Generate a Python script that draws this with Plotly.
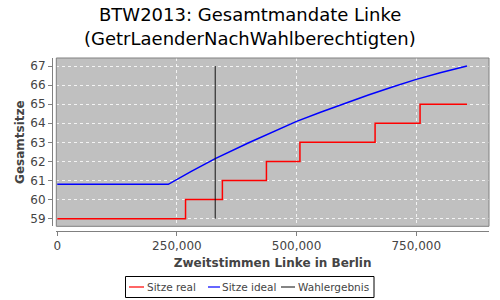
import plotly.graph_objects as go

# Data
real_x = [0, 268000, 345000, 437000, 507000, 664000, 758000, 856000]
real_y = [59, 60, 61, 62, 63, 64, 65, 65]

ideal_x = [0, 232000, 280000, 330000, 400000, 450000, 500000, 550000, 600000,
           650000, 700000, 750000, 800000, 856000]
ideal_y = [60.8, 60.8, 61.48, 62.15, 62.98, 63.55, 64.10, 64.58, 65.05,
           65.48, 65.90, 66.30, 66.65, 67.0]

wahl_x = [330000, 330000]
wahl_y = [59, 67]

x_ticks = [0, 250000, 500000, 750000]
y_ticks = [59, 60, 61, 62, 63, 64, 65, 66, 67]

legend_names = ["Sitze real", "Sitze ideal", "Wahlergebnis"]
legend_colors = ["#ff0000", "#0000ff", "#333333"]

font = "DejaVu Sans"

W, H = 500, 300
ML, MR, MT, MB = 52, 11, 58, 69
PW = W - ML - MR
PH = H - MT - MB


def px_x(p):
    return (p - ML) / PW


def px_y(p):
    return (H - MB - p) / PH


fig = go.Figure()
fig.add_trace(go.Scatter(x=real_x, y=real_y, mode="lines", line_shape="hv",
                         line=dict(color=legend_colors[0], width=1.5), name=legend_names[0]))
fig.add_trace(go.Scatter(x=ideal_x, y=ideal_y, mode="lines",
                         line=dict(color=legend_colors[1], width=1.5), name=legend_names[1]))
fig.add_trace(go.Scatter(x=wahl_x, y=wahl_y, mode="lines",
                         line=dict(color="#111111", width=1), name=legend_names[2]))

# manual legend
leg_box = (125.5, 374, 276.5, 297.5)
leg_items = [(129, 144, 147), (208, 220, 222), (281, 295, 297.5)]
shapes = [
    dict(type="rect", xref="x domain", yref="y domain", x0=0, x1=1, y0=0, y1=1,
         line=dict(color="#808080", width=1)),
    dict(type="rect", xref="paper", yref="paper",
         x0=px_x(leg_box[0]), x1=px_x(leg_box[1]), y0=px_y(leg_box[3]), y1=px_y(leg_box[2]),
         line=dict(color="black", width=1), fillcolor="white"),
]
annotations = [
    dict(text="BTW2013: Gesamtmandate Linke", xref="paper", yref="paper",
         x=px_x(250), y=px_y(15), xanchor="center", yanchor="middle", showarrow=False,
         font=dict(family=font, size=18, color="black")),
    dict(text="(GetrLaenderNachWahlberechtigten)", xref="paper", yref="paper",
         x=px_x(250), y=px_y(38), xanchor="center", yanchor="middle", showarrow=False,
         font=dict(family=font, size=18, color="black")),
]
leg_cy = 287
for (x0, x1, tx), name, col in zip(leg_items, legend_names, legend_colors):
    shapes.append(dict(type="line", xref="paper", yref="paper",
                       x0=px_x(x0), x1=px_x(x1), y0=px_y(leg_cy), y1=px_y(leg_cy),
                       line=dict(color=col, width=1.2)))
    annotations.append(dict(text=name, xref="paper", yref="paper",
                            x=px_x(tx), y=px_y(leg_cy), xanchor="left", yanchor="middle",
                            showarrow=False, xshift=-2,
                            font=dict(family=font, size=10.5, color="#444444")))

fig.update_layout(
    width=W, height=H,
    margin=dict(l=ML, r=MR, t=MT, b=MB),
    paper_bgcolor="white", plot_bgcolor="#c0c0c0",
    font=dict(family=font, size=12, color="#444444"),
    showlegend=False,
    xaxis=dict(domain=[4.3 / PW, 1], anchor="free", position=0,
               range=[-2000, 902000], tickvals=x_ticks, tickformat=",",
               showgrid=True, gridcolor="rgba(255,255,255,0.8)", griddash="3px,3px",
               gridwidth=1, zeroline=False, showline=True, linecolor="#808080", linewidth=1,
               ticks="outside", ticklen=4, tickcolor="#808080",
               title=dict(text="<b>Zweitstimmen Linke in Berlin</b>",
                          font=dict(family=font, size=12, color="#444444"), standoff=6)),
    yaxis=dict(domain=[4.7 / PH, 1], anchor="free", position=0,
               range=[58.6, 67.42], tickvals=y_ticks,
               showgrid=True, gridcolor="rgba(255,255,255,0.8)", griddash="3px,3px",
               gridwidth=1, zeroline=False, showline=True, linecolor="#808080", linewidth=1,
               ticks="outside", ticklen=4, tickcolor="#808080",
               title=dict(text="<b>Gesamtsitze</b>",
                          font=dict(family=font, size=12, color="#444444"), standoff=2)),
    shapes=shapes,
    annotations=annotations,
)

fig.write_html("out.html")
